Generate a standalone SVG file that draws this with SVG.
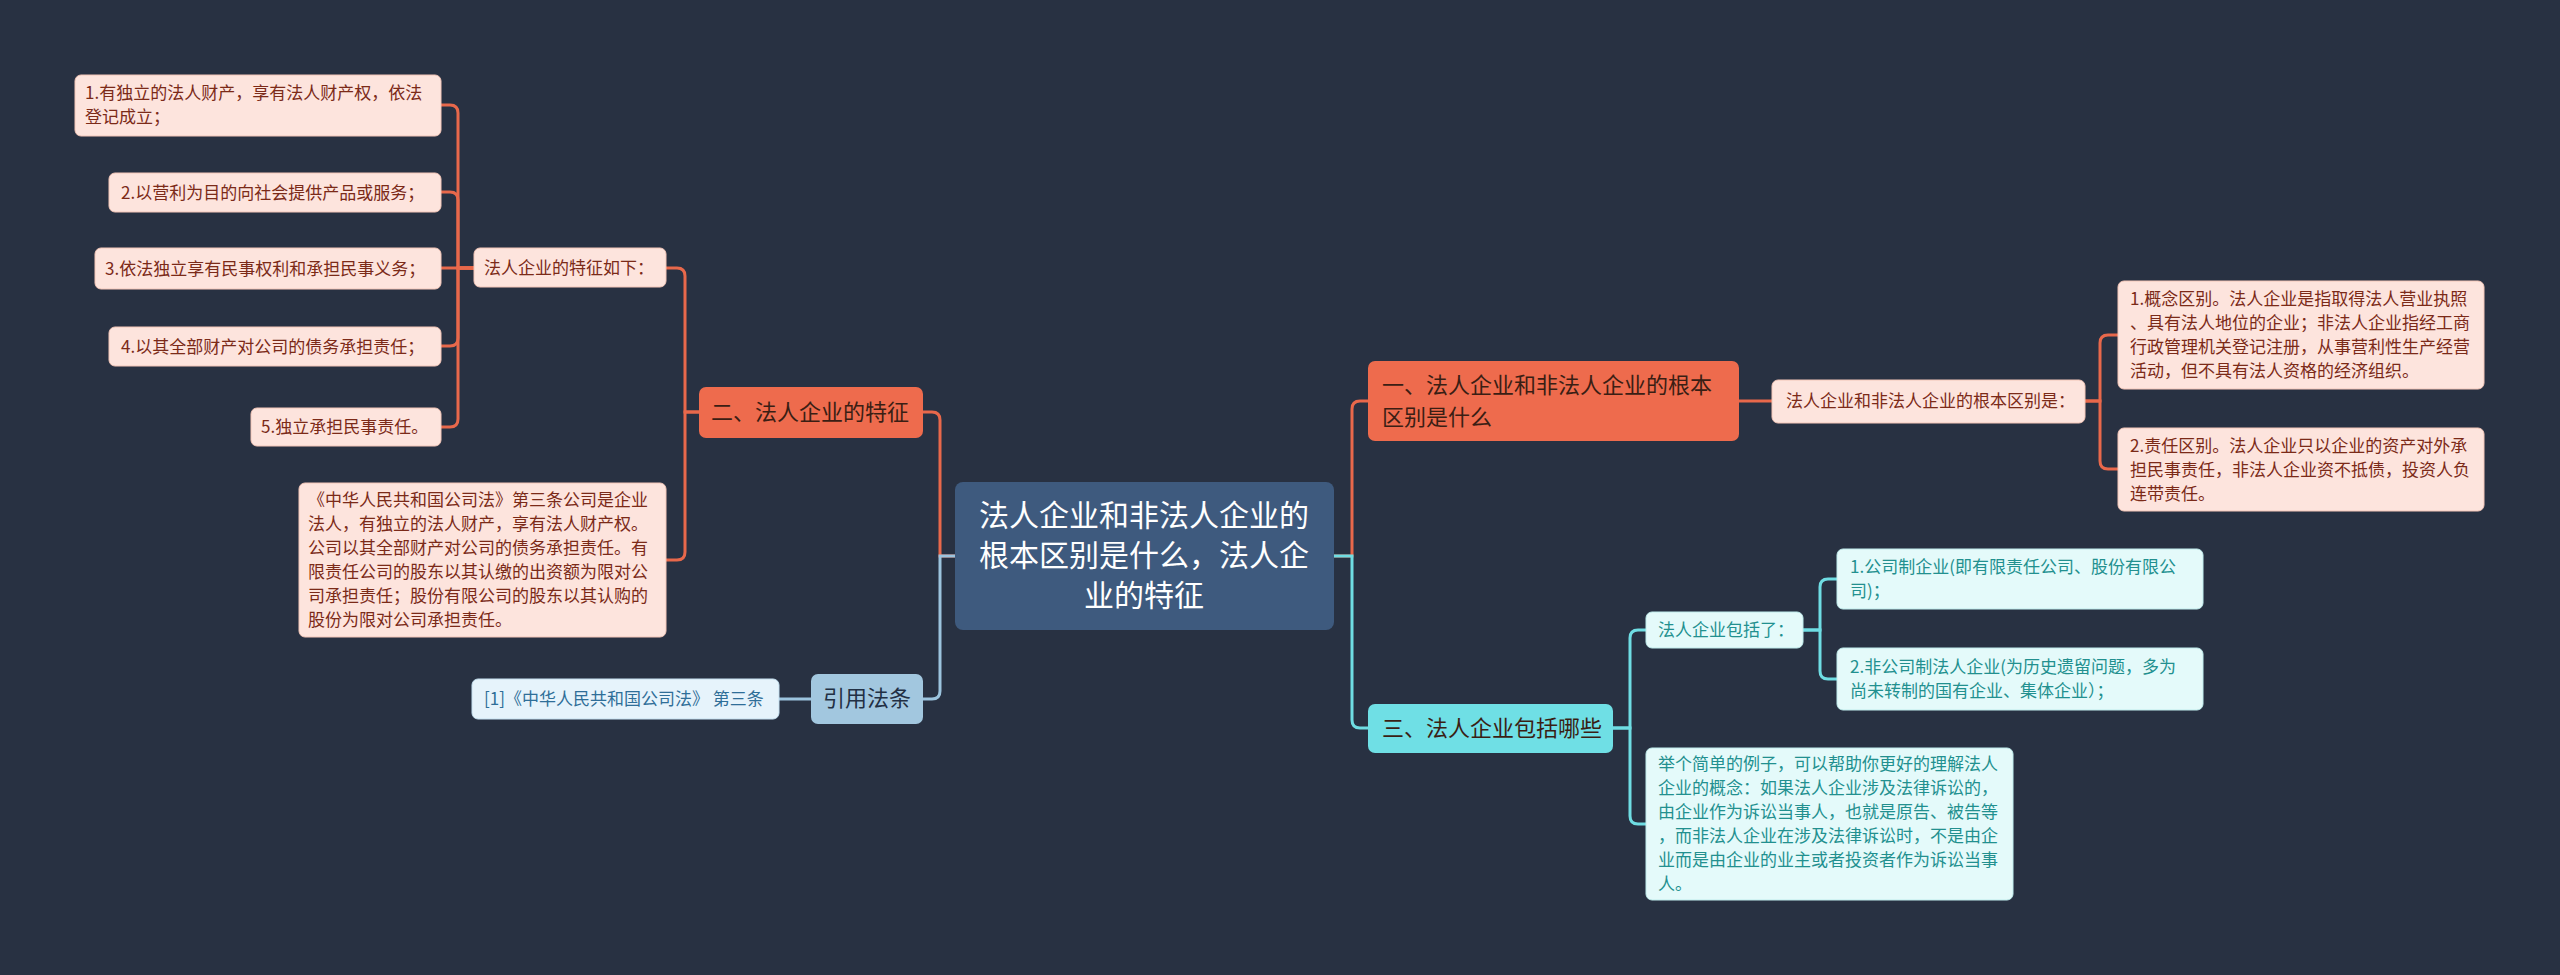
<svg xmlns="http://www.w3.org/2000/svg" width="2560" height="975" viewBox="0 0 2560 975">
<style>
text{font-family:"Noto Sans CJK SC","Noto Sans",sans-serif}
.c{fill:none;stroke-width:3}
.o{stroke:#e8684b}.b{stroke:#9cc4de}.t{stroke:#6fdde3}
.lo{fill:#fde4dd;stroke:#f3c6b8;stroke-width:1}
.lt{fill:#e4fafa;stroke:#bfecec;stroke-width:1}
.tl{font-size:17px;fill:#7b2a18}
.tt{font-size:17px;fill:#22908f}
.m{font-size:22px;fill:#3a1e14}
</style>
<rect width="2560" height="975" fill="#283142"/>
<g id="connectors">
<path class="c o" d="M955 556H940V420Q940 412 932 412H923"/>
<path class="c b" d="M955 556H940V691Q940 699 932 699H923"/>
<path class="c o" d="M1334 556H1352V409Q1352 401 1360 401H1368"/>
<path class="c t" d="M1334 556H1352V720Q1352 728 1360 728H1368"/>
<path class="c o" d="M699 412H685V276Q685 268 677 268H666"/>
<path class="c o" d="M699 412H685V552Q685 560 677 560H666"/>
<path class="c o" d="M474 268H458V113Q458 105 450 105H441"/>
<path class="c o" d="M474 268H458V200Q458 192 450 192H441"/>
<path class="c o" d="M474 268H441"/>
<path class="c o" d="M474 268H458V338Q458 346 450 346H441"/>
<path class="c o" d="M474 268H458V419Q458 427 450 427H441"/>
<path class="c b" d="M811 699H779"/>
<path class="c o" d="M1739 401H1772"/>
<path class="c o" d="M2085 401H2100V343Q2100 335 2108 335H2118"/>
<path class="c o" d="M2085 401H2100V461Q2100 469 2108 469H2118"/>
<path class="c t" d="M1613 728H1630V638Q1630 630 1638 630H1646"/>
<path class="c t" d="M1613 728H1630V816Q1630 824 1638 824H1646"/>
<path class="c t" d="M1803 630H1820V587Q1820 579 1828 579H1837"/>
<path class="c t" d="M1803 630H1820V671Q1820 679 1828 679H1837"/>
</g>
<g id="root"><rect x="955" y="482" width="379" height="148" rx="8" fill="#3e5a7e"/>
<text x="1144" y="526" font-size="30" fill="#fff" text-anchor="middle">法人企业和非法人企业的</text>
<text x="1144" y="566" font-size="30" fill="#fff" text-anchor="middle">根本区别是什么，法人企</text>
<text x="1144" y="606" font-size="30" fill="#fff" text-anchor="middle">业的特征</text></g>
<g id="n1"><rect x="1368" y="361" width="371" height="80" rx="7" fill="#ee6b4d"/>
<text class="m" x="1382" y="393">一、法人企业和非法人企业的根本</text><text class="m" x="1382" y="425">区别是什么</text></g>
<g id="n1a"><rect class="lo" x="1772" y="380" width="313" height="43" rx="6"/><text class="tl" x="1786" y="407">法人企业和非法人企业的根本区别是：</text></g>
<g id="n1a1"><rect class="lo" x="2118" y="281" width="366" height="108" rx="6"/>
<text class="tl" x="2130" y="305">1.概念区别。法人企业是指取得法人营业执照</text>
<text class="tl" x="2130" y="329">、具有法人地位的企业；非法人企业指经工商</text>
<text class="tl" x="2130" y="353">行政管理机关登记注册，从事营利性生产经营</text>
<text class="tl" x="2130" y="377">活动，但不具有法人资格的经济组织。</text></g>
<g id="n1a2"><rect class="lo" x="2118" y="428" width="366" height="83" rx="6"/>
<text class="tl" x="2130" y="452">2.责任区别。法人企业只以企业的资产对外承</text>
<text class="tl" x="2130" y="476">担民事责任，非法人企业资不抵债，投资人负</text>
<text class="tl" x="2130" y="500">连带责任。</text></g>
<g id="n3"><rect x="1368" y="704" width="245" height="49" rx="7" fill="#6fdfe5"/><text class="m" x="1382" y="736">三、法人企业包括哪些</text></g>
<g id="n3a"><rect class="lt" x="1646" y="612" width="157" height="36" rx="6"/><text class="tt" x="1658" y="636">法人企业包括了：</text></g>
<g id="n3a1"><rect class="lt" x="1837" y="549" width="366" height="60" rx="6"/>
<text class="tt" x="1850" y="573">1.公司制企业(即有限责任公司、股份有限公</text><text class="tt" x="1850" y="597">司)；</text></g>
<g id="n3a2"><rect class="lt" x="1837" y="648" width="366" height="62" rx="6"/>
<text class="tt" x="1850" y="673">2.非公司制法人企业(为历史遗留问题，多为</text><text class="tt" x="1850" y="697">尚未转制的国有企业、集体企业）；</text></g>
<g id="n3b"><rect class="lt" x="1646" y="748" width="367" height="152" rx="6"/>
<text class="tt" x="1658" y="770">举个简单的例子，可以帮助你更好的理解法人</text>
<text class="tt" x="1658" y="794">企业的概念：如果法人企业涉及法律诉讼的，</text>
<text class="tt" x="1658" y="818">由企业作为诉讼当事人，也就是原告、被告等</text>
<text class="tt" x="1658" y="842">，而非法人企业在涉及法律诉讼时，不是由企</text>
<text class="tt" x="1658" y="866">业而是由企业的业主或者投资者作为诉讼当事</text>
<text class="tt" x="1658" y="890">人。</text></g>
<g id="n2"><rect x="699" y="387" width="224" height="51" rx="7" fill="#ee6b4d"/><text class="m" x="711" y="420">二、法人企业的特征</text></g>
<g id="n2a"><rect class="lo" x="474" y="248" width="192" height="39" rx="6"/><text class="tl" x="484" y="274">法人企业的特征如下：</text></g>
<g id="i1"><rect class="lo" x="75" y="75" width="366" height="61" rx="6"/><text class="tl" x="85" y="99">1.有独立的法人财产，享有法人财产权，依法</text><text class="tl" x="85" y="123">登记成立；</text></g>
<g id="i2"><rect class="lo" x="109" y="173" width="332" height="39" rx="6"/><text class="tl" x="121" y="199">2.以营利为目的向社会提供产品或服务；</text></g>
<g id="i3"><rect class="lo" x="95" y="248" width="346" height="41" rx="6"/><text class="tl" x="105" y="275">3.依法独立享有民事权利和承担民事义务；</text></g>
<g id="i4"><rect class="lo" x="109" y="327" width="332" height="39" rx="6"/><text class="tl" x="121" y="353">4.以其全部财产对公司的债务承担责任；</text></g>
<g id="i5"><rect class="lo" x="251" y="408" width="190" height="38" rx="6"/><text class="tl" x="261" y="433">5.独立承担民事责任。</text></g>
<g id="n2b"><rect class="lo" x="299" y="483" width="367" height="154" rx="6"/>
<text class="tl" x="308" y="506">《中华人民共和国公司法》第三条公司是企业</text>
<text class="tl" x="308" y="530">法人，有独立的法人财产，享有法人财产权。</text>
<text class="tl" x="308" y="554">公司以其全部财产对公司的债务承担责任。有</text>
<text class="tl" x="308" y="578">限责任公司的股东以其认缴的出资额为限对公</text>
<text class="tl" x="308" y="602">司承担责任；股份有限公司的股东以其认购的</text>
<text class="tl" x="308" y="626">股份为限对公司承担责任。</text></g>
<g id="law"><rect x="811" y="674" width="112" height="50" rx="7" fill="#a2c7df"/><text x="867" y="706" font-size="22" fill="#223044" text-anchor="middle">引用法条</text></g>
<g id="law1"><rect x="472" y="679" width="307" height="40" rx="6" fill="#e6f3fb" stroke="#c5e0f0"/><text x="484" y="705" font-size="17" fill="#2f6e98">[1]《中华人民共和国公司法》 第三条</text></g>
</svg>
